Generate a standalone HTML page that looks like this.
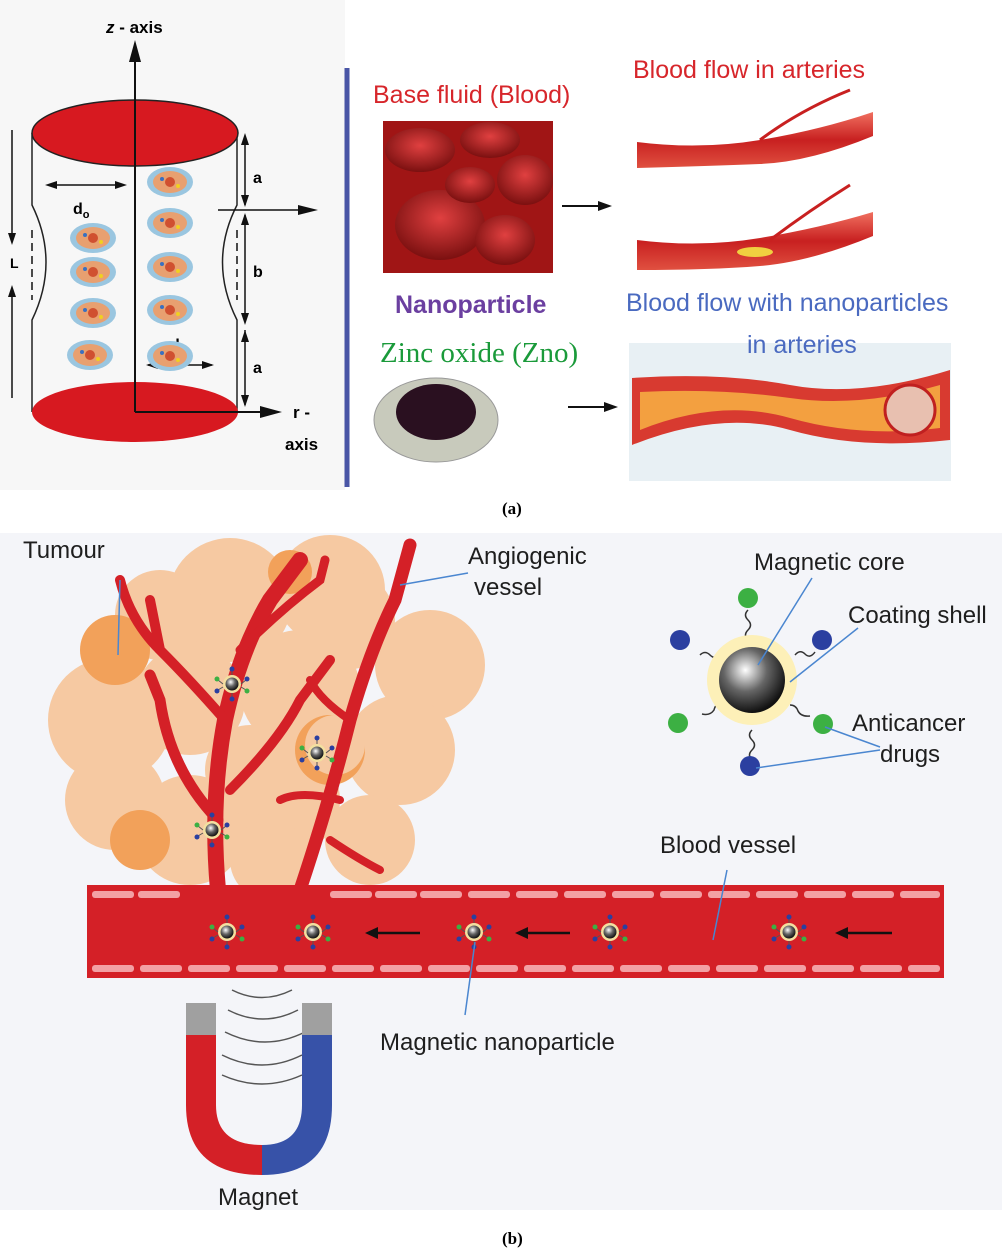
<!DOCTYPE html>
<html><head><meta charset="utf-8"><style>
body{margin:0;background:#fff;}
svg{display:block;font-family:"Liberation Sans",sans-serif;}
</style></head><body>
<svg width="1005" height="1253" viewBox="0 0 1005 1253" xmlns="http://www.w3.org/2000/svg">
<defs>
<radialGradient id="core" cx="40%" cy="35%" r="65%"><stop offset="0" stop-color="#fff"/><stop offset="0.5" stop-color="#666"/><stop offset="1" stop-color="#111"/></radialGradient>
<radialGradient id="rbc" cx="50%" cy="40%" r="70%"><stop offset="0" stop-color="#e04040"/><stop offset="1" stop-color="#6a0808"/></radialGradient>
<linearGradient id="art" x1="0" y1="0" x2="0" y2="1"><stop offset="0" stop-color="#f07060"/><stop offset="0.5" stop-color="#c82020"/><stop offset="1" stop-color="#e05040"/></linearGradient>
<g id="np"><circle r="9" fill="#f3e0a0"/><circle r="6.5" fill="url(#core)"/>
<g stroke="#555" stroke-width="1"><line x1="0" y1="-9" x2="0" y2="-14"/><line x1="0" y1="9" x2="0" y2="14"/><line x1="-9" y1="0" x2="-14" y2="-4"/><line x1="9" y1="0" x2="14" y2="-4"/><line x1="-9" y1="3" x2="-14" y2="6"/><line x1="9" y1="3" x2="14" y2="6"/></g>
<circle cx="0" cy="-15" r="2.5" fill="#2b3fa0"/><circle cx="0" cy="15" r="2.5" fill="#2b3fa0"/><circle cx="-15" cy="-5" r="2.5" fill="#3cb043"/><circle cx="15" cy="-5" r="2.5" fill="#2b3fa0"/><circle cx="-15" cy="7" r="2.5" fill="#2b3fa0"/><circle cx="15" cy="7" r="2.5" fill="#3cb043"/></g>
<g id="cell"><ellipse rx="23" ry="15" fill="#9ac6e0"/><ellipse rx="17" ry="11" fill="#e8a070"/><circle r="5" fill="#d05030"/><circle cx="-8" cy="-3" r="2" fill="#3a70c0"/><circle cx="8" cy="4" r="2" fill="#f0d020"/></g>
</defs>

<!-- Part (a) -->
<rect x="0" y="0" width="345" height="490" fill="#f7f7f7"/>
<path d="M32,133 L32,205 Q60,262 32,320 L32,412 M237,133 L237,205 Q208,262 237,320 L237,412" fill="none" stroke="#222" stroke-width="1.5"/>
<ellipse cx="135" cy="412" rx="103" ry="30" fill="#d71920"/>
<ellipse cx="135" cy="133" rx="103" ry="33" fill="#d71920" stroke="#222" stroke-width="1.5"/>
<line x1="135" y1="412" x2="135" y2="50" stroke="#111" stroke-width="2"/>
<polygon points="135,40 129,62 141,62" fill="#111"/>
<line x1="135" y1="412" x2="262" y2="412" stroke="#111" stroke-width="2"/>
<polygon points="282,412 260,406 260,418" fill="#111"/>
<text x="106" y="33" font-size="17" font-weight="bold"><tspan font-style="italic">z</tspan> - axis</text>
<text x="293" y="418" font-size="17" font-weight="bold">r -</text>
<text x="285" y="450" font-size="17" font-weight="bold">axis</text>
<g stroke="#111" stroke-width="1.5" fill="none">
<line x1="245" y1="136" x2="245" y2="205"/><line x1="245" y1="215" x2="245" y2="322"/><line x1="245" y1="330" x2="245" y2="405"/>
<line x1="218" y1="210" x2="300" y2="210"/>
<line x1="48" y1="185" x2="124" y2="185"/><line x1="148" y1="365" x2="212" y2="365"/>
<line x1="12" y1="130" x2="12" y2="240"/><line x1="12" y1="290" x2="12" y2="398"/>
<line x1="32" y1="230" x2="32" y2="300" stroke-dasharray="8,5"/><line x1="237" y1="230" x2="237" y2="300" stroke-dasharray="8,5"/>
</g>
<polygon points="318,210 298,205 298,215" fill="#111"/>
<g fill="#111"><polygon points="245,133 241,145 249,145"/><polygon points="245,207 241,195 249,195"/><polygon points="245,213 241,225 249,225"/><polygon points="245,325 241,313 249,313"/><polygon points="245,330 241,342 249,342"/><polygon points="245,407 241,395 249,395"/>
<polygon points="45,185 57,181 57,189"/><polygon points="127,185 115,181 115,189"/><polygon points="146,365 158,361 158,369"/><polygon points="214,365 202,361 202,369"/>
<polygon points="12,245 8,233 16,233"/><polygon points="12,285 8,297 16,297"/></g>
<text x="253" y="183" font-size="16" font-weight="bold">a</text>
<text x="253" y="277" font-size="16" font-weight="bold">b</text>
<text x="253" y="373" font-size="16" font-weight="bold">a</text>
<text x="73" y="214" font-size="16" font-weight="bold">d<tspan font-size="11" dy="4">o</tspan></text>
<text x="170" y="350" font-size="16" font-weight="bold">d<tspan font-size="11" dy="4">o</tspan></text>
<text x="10" y="268" font-size="14" font-weight="bold">L</text>
<use href="#cell" x="93" y="238"/><use href="#cell" x="93" y="272"/><use href="#cell" x="93" y="313"/><use href="#cell" x="90" y="355"/>
<use href="#cell" x="170" y="182"/><use href="#cell" x="170" y="223"/><use href="#cell" x="170" y="267"/><use href="#cell" x="170" y="310"/><use href="#cell" x="170" y="356"/>
<line x1="347" y1="68" x2="347" y2="487" stroke="#4a56a6" stroke-width="5"/>
<text x="373" y="103" font-size="25" fill="#d7262b">Base fluid (Blood)</text>
<rect x="383" y="121" width="170" height="152" fill="#a01515"/>
<g fill="url(#rbc)"><ellipse cx="420" cy="150" rx="35" ry="22"/><ellipse cx="490" cy="140" rx="30" ry="18"/><ellipse cx="525" cy="180" rx="28" ry="25"/><ellipse cx="440" cy="225" rx="45" ry="35"/><ellipse cx="505" cy="240" rx="30" ry="25"/><ellipse cx="470" cy="185" rx="25" ry="18"/></g>
<line x1="562" y1="206" x2="600" y2="206" stroke="#111" stroke-width="2"/><polygon points="612,206 598,201 598,211" fill="#111"/>
<text x="633" y="78" font-size="25" fill="#d7262b">Blood flow in arteries</text>
<path d="M637,142 Q700,150 760,140 T873,112 L873,136 Q810,162 760,164 T637,168 Z" fill="url(#art)"/>
<path d="M637,240 Q700,248 760,238 T873,212 L873,236 Q810,262 760,266 T637,270 Z" fill="url(#art)"/>
<path d="M760,140 Q800,110 850,90 M770,240 Q810,210 850,185" stroke="#c82020" stroke-width="3" fill="none"/>
<ellipse cx="755" cy="252" rx="18" ry="5" fill="#f0d040"/>
<text x="395" y="313" font-size="25" fill="#6b3fa0" font-weight="bold">Nanoparticle</text>
<text x="380" y="362" font-size="29" fill="#1a9a3a" font-family="Liberation Serif,serif">Zinc oxide (Zno)</text>
<ellipse cx="436" cy="420" rx="62" ry="42" fill="#c8cabc" stroke="#999"/>
<ellipse cx="436" cy="412" rx="40" ry="28" fill="#2a1020"/>
<line x1="568" y1="407" x2="605" y2="407" stroke="#111" stroke-width="2"/><polygon points="618,407 604,402 604,412" fill="#111"/>
<rect x="629" y="343" width="322" height="138" fill="#e8f0f4"/>
<path d="M632,378 Q720,372 790,385 T950,370 L950,440 Q860,450 790,430 T632,445 Z" fill="#d83a30"/>
<path d="M640,392 Q720,388 790,398 T940,385 L940,428 Q860,438 790,418 T640,430 Z" fill="#f3a040"/>
<circle cx="910" cy="410" r="25" fill="#e8c0b0" stroke="#c02020" stroke-width="3"/>
<text x="626" y="311" font-size="25" fill="#4a6ac0">Blood flow with nanoparticles</text>
<text x="747" y="353" font-size="25" fill="#4a6ac0">in arteries</text>
<text x="502" y="514" font-size="17" font-weight="bold" font-family="Liberation Serif,serif">(a)</text>

<!-- Part (b) -->
<rect x="0" y="533" width="1002" height="677" fill="#f4f5f9"/>
<g fill="#f6c9a2">
<circle cx="230" cy="600" r="62"/><circle cx="330" cy="590" r="55"/><circle cx="160" cy="615" r="45"/><circle cx="110" cy="720" r="62"/><circle cx="190" cy="700" r="55"/><circle cx="300" cy="690" r="60"/><circle cx="430" cy="665" r="55"/><circle cx="400" cy="750" r="55"/><circle cx="115" cy="800" r="50"/><circle cx="190" cy="830" r="55"/><circle cx="285" cy="800" r="55"/><circle cx="370" cy="840" r="45"/><circle cx="270" cy="860" r="40"/><circle cx="345" cy="620" r="50"/></g>
<g fill="#f2a15a"><circle cx="115" cy="650" r="35"/><circle cx="290" cy="572" r="22"/><circle cx="140" cy="840" r="30"/><circle cx="330" cy="750" r="35"/></g>
<g fill="#f6c9a2"><circle cx="335" cy="745" r="30"/><circle cx="250" cy="770" r="45"/></g>
<g stroke="#d42027" fill="none" stroke-linecap="round">
<path d="M218,890 Q210,800 225,720 Q240,650 270,600 L300,560" stroke-width="16"/>
<path d="M225,720 Q190,680 160,650 L150,600 M160,650 Q130,620 120,580" stroke-width="10"/>
<path d="M240,650 Q280,610 320,580 L325,560" stroke-width="9"/>
<path d="M218,820 Q170,770 160,700 L150,675" stroke-width="11"/>
<path d="M230,790 Q280,740 300,700 L330,660" stroke-width="10"/>
<path d="M300,890 Q330,800 350,720 Q370,650 395,600 L410,545" stroke-width="13"/>
<path d="M350,720 Q320,700 310,680 M340,800 Q300,790 280,800 M330,840 Q360,860 380,870" stroke-width="8"/>
</g>
<use href="#np" x="232" y="684"/><use href="#np" x="317" y="753"/><use href="#np" x="212" y="830"/>
<rect x="87" y="885" width="857" height="93" fill="#d42027"/>
<g fill="#f3a0a4">
<rect x="92" y="891" width="42" height="7" rx="3"/><rect x="138" y="891" width="42" height="7" rx="3"/>
<rect x="420" y="891" width="42" height="7" rx="3"/><rect x="468" y="891" width="42" height="7" rx="3"/><rect x="516" y="891" width="42" height="7" rx="3"/><rect x="564" y="891" width="42" height="7" rx="3"/><rect x="612" y="891" width="42" height="7" rx="3"/><rect x="660" y="891" width="42" height="7" rx="3"/><rect x="708" y="891" width="42" height="7" rx="3"/><rect x="756" y="891" width="42" height="7" rx="3"/><rect x="804" y="891" width="42" height="7" rx="3"/><rect x="852" y="891" width="42" height="7" rx="3"/><rect x="900" y="891" width="40" height="7" rx="3"/><rect x="330" y="891" width="42" height="7" rx="3"/><rect x="375" y="891" width="42" height="7" rx="3"/>
</g>
<g fill="#f3a0a4">
<rect x="92" y="965" width="42" height="7" rx="3"/><rect x="140" y="965" width="42" height="7" rx="3"/><rect x="188" y="965" width="42" height="7" rx="3"/><rect x="236" y="965" width="42" height="7" rx="3"/><rect x="284" y="965" width="42" height="7" rx="3"/><rect x="332" y="965" width="42" height="7" rx="3"/><rect x="380" y="965" width="42" height="7" rx="3"/><rect x="428" y="965" width="42" height="7" rx="3"/><rect x="476" y="965" width="42" height="7" rx="3"/><rect x="524" y="965" width="42" height="7" rx="3"/><rect x="572" y="965" width="42" height="7" rx="3"/><rect x="620" y="965" width="42" height="7" rx="3"/><rect x="668" y="965" width="42" height="7" rx="3"/><rect x="716" y="965" width="42" height="7" rx="3"/><rect x="764" y="965" width="42" height="7" rx="3"/><rect x="812" y="965" width="42" height="7" rx="3"/><rect x="860" y="965" width="42" height="7" rx="3"/><rect x="908" y="965" width="32" height="7" rx="3"/>
</g>
<use href="#np" x="227" y="932"/><use href="#np" x="313" y="932"/><use href="#np" x="474" y="932"/><use href="#np" x="610" y="932"/><use href="#np" x="789" y="932"/>
<g stroke="#111" stroke-width="2.5"><line x1="375" y1="933" x2="420" y2="933"/><line x1="525" y1="933" x2="570" y2="933"/><line x1="845" y1="933" x2="892" y2="933"/></g>
<g fill="#111"><polygon points="365,933 378,927 378,939"/><polygon points="515,933 528,927 528,939"/><polygon points="835,933 848,927 848,939"/></g>
<g stroke="#333" stroke-width="1.5" fill="none">
<path d="M748,640 q-5,-5 0,-10 q5,-5 0,-10 q-5,-5 0,-10"/><path d="M720,655 q-5,5 -10,0 q-5,-5 -10,0"/><path d="M795,655 q5,-6 10,-1 q5,5 10,-2"/><path d="M722,705 q-6,-3 -8,5 q-4,6 -12,4"/><path d="M790,705 q6,0 8,6 q3,6 12,5"/><path d="M752,730 q-5,5 0,10 q5,5 0,10 q-5,5 0,10"/></g>
<circle cx="752" cy="680" r="45" fill="#fdf0b8"/><circle cx="752" cy="680" r="33" fill="url(#core)"/>
<g fill="#3cb043"><circle cx="748" cy="598" r="10"/><circle cx="678" cy="723" r="10"/><circle cx="823" cy="724" r="10"/></g>
<g fill="#2b3fa0"><circle cx="680" cy="640" r="10"/><circle cx="822" cy="640" r="10"/><circle cx="750" cy="766" r="10"/></g>
<g stroke="#4a86d0" stroke-width="1.5" fill="none"><line x1="812" y1="578" x2="758" y2="665"/><line x1="858" y1="628" x2="790" y2="682"/><line x1="880" y1="747" x2="825" y2="727"/><line x1="880" y1="750" x2="756" y2="768"/><line x1="120" y1="580" x2="118" y2="655"/><line x1="468" y1="573" x2="400" y2="585"/><line x1="727" y1="870" x2="713" y2="940"/><line x1="475" y1="942" x2="465" y2="1015"/></g>
<g fill="#1e1e1e" font-size="24">
<text x="23" y="558">Tumour</text>
<text x="468" y="564">Angiogenic</text><text x="474" y="595">vessel</text>
<text x="754" y="570">Magnetic core</text>
<text x="848" y="623">Coating shell</text>
<text x="852" y="731">Anticancer</text><text x="880" y="762">drugs</text>
<text x="660" y="853">Blood vessel</text>
<text x="380" y="1050">Magnetic nanoparticle</text>
<text x="218" y="1205">Magnet</text>
</g>
<g stroke="#555" stroke-width="1.5" fill="none"><path d="M232,990 q30,15 60,0"/><path d="M228,1010 q35,18 70,0"/><path d="M225,1032 q40,20 80,0"/><path d="M222,1055 q40,20 80,0"/><path d="M222,1075 q40,18 80,0"/></g>
<path d="M186,1035 L216,1035 L216,1105 Q216,1145 262,1145 L262,1175 Q186,1175 186,1105 Z" fill="#d42027"/>
<path d="M302,1035 L332,1035 L332,1105 Q332,1175 262,1175 L262,1145 Q302,1145 302,1105 Z" fill="#3752a8"/>
<rect x="186" y="1003" width="30" height="32" fill="#a0a0a0"/><rect x="302" y="1003" width="30" height="32" fill="#a0a0a0"/>
<text x="502" y="1244" font-size="17" font-weight="bold" font-family="Liberation Serif,serif">(b)</text>
</svg>
</body></html>
